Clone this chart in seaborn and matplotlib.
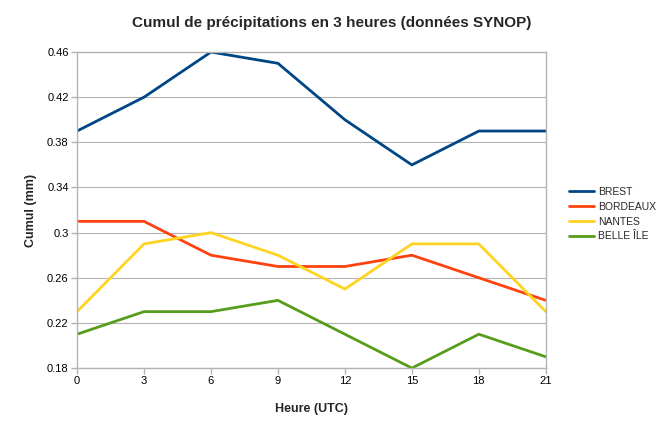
import matplotlib
matplotlib.use("Agg")
import matplotlib.pyplot as plt
import seaborn as sns
import pandas as pd

hours = [0, 3, 6, 9, 12, 15, 18, 21]
brest = [0.39, 0.42, 0.46, 0.45, 0.40, 0.36, 0.39, 0.39]
bordeaux = [0.31, 0.31, 0.28, 0.27, 0.27, 0.28, 0.26, 0.24]
nantes = [0.23, 0.29, 0.30, 0.28, 0.25, 0.29, 0.29, 0.23]
belle_ile = [0.21, 0.23, 0.23, 0.24, 0.21, 0.18, 0.21, 0.19]
series_names = ["BREST", "BORDEAUX", "NANTES", "BELLE ÎLE"]
yticks = [0.18, 0.22, 0.26, 0.3, 0.34, 0.38, 0.42, 0.46]
ytick_labels = ["0.18", "0.22", "0.26", "0.3", "0.34", "0.38", "0.42", "0.46"]

sns.set_theme(style="white")
plt.rcParams["font.family"] = ["Liberation Sans", "DejaVu Sans"]

rows = []
for name, vals in zip(series_names, [brest, bordeaux, nantes, belle_ile]):
    for h, v in zip(hours, vals):
        rows.append({"Heure": h, "Cumul": v, "Station": name})
df = pd.DataFrame(rows)

palette = {"BREST": "#004586", "BORDEAUX": "#ff420e", "NANTES": "#ffd320", "BELLE ÎLE": "#579d1c"}

fig = plt.figure(figsize=(6.64, 4.30), dpi=100)
ax = fig.add_axes([0.116, 0.144, 0.706, 0.735])
sns.lineplot(data=df, x="Heure", y="Cumul", hue="Station", palette=palette,
             hue_order=series_names, linewidth=2, ax=ax, legend=True)

ax.set_xlim(0, 21)
ax.set_ylim(0.18, 0.46)
ax.set_xticks(hours)
ax.set_xticklabels([str(h) for h in hours], fontsize=8)
ax.set_yticks(yticks)
ax.set_yticklabels(ytick_labels, fontsize=8)
ax.grid(axis="y", color="#b3b3b3", linewidth=0.8)
ax.set_axisbelow(True)
for s in ax.spines.values():
    s.set_color("#b3b3b3")
    s.set_linewidth(1)
ax.tick_params(axis="both", length=4, width=1, color="#b3b3b3", direction="out",
               labelcolor="#000000", pad=2)
ax.tick_params(bottom=True, left=True)

ax.set_xlabel("Heure (UTC)", fontsize=9, fontweight="bold", labelpad=12)
ax.set_ylabel("Cumul (mm)", fontsize=9, fontweight="bold", labelpad=7)
fig.suptitle("Cumul de précipitations en 3 heures (données SYNOP)", fontsize=11,
             fontweight="bold", x=0.5, y=0.963)

leg = ax.legend(loc="center left", bbox_to_anchor=(1.03, 0.487), frameon=False,
                fontsize=7.5, handlelength=2.4, labelspacing=0.45, handletextpad=0.4)
ax.get_legend().set_title(None)

fig.savefig("out.png", dpi=100)
